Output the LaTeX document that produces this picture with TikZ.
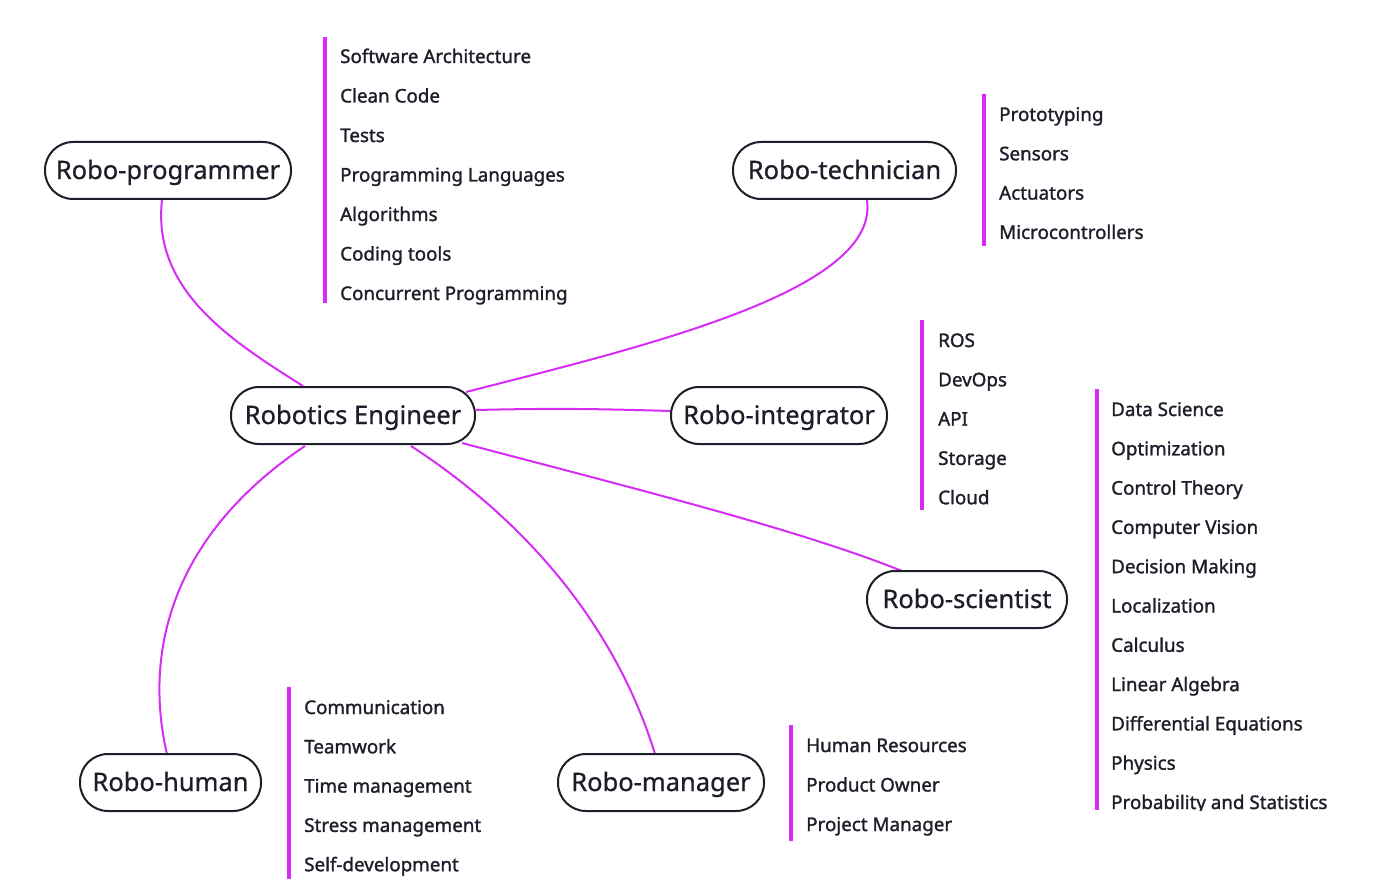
\documentclass[tikz,border=0pt]{standalone}
\usepackage{fontspec}
\setmainfont{Noto Sans}
\definecolor{mag}{HTML}{D62CF5}
\definecolor{ink}{HTML}{1C1F2A}
\tikzset{
  hub/.style={draw=ink, line width=2pt, rounded corners=28pt, fill=white, text=ink,
    minimum height=57pt, inner sep=0pt, text height=17pt, text depth=0pt,
    font=\fontsize{25.5}{28}\selectfont\addfontfeatures{FakeBold=0.8}},
  conn/.style={draw=mag, line width=2pt},
  bar/.style={fill=mag, draw=none},
  item/.style={anchor=base west, inner sep=0pt, text=ink, font=\fontsize{18.8}{20}\selectfont\addfontfeatures{FakeBold=1.4}}
}
\begin{document}
\begin{tikzpicture}[x=1pt,y=-1pt]
\useasboundingbox (0,0) rectangle (1374,885);
% connectors
\coordinate (pA) at (162,200); \coordinate (pB) at (303,386);
\coordinate (tA) at (867,200); \coordinate (tB) at (466,392);
\coordinate (iA) at (476,410); \coordinate (iB) at (671,411);
\coordinate (sA) at (462,443); \coordinate (sB) at (902,571);
\coordinate (hA) at (305,446); \coordinate (hB) at (167,754);
\coordinate (mA) at (411,446); \coordinate (mB) at (655,754);
\draw[conn] (pA) .. controls (152,290) and (230,340) .. (pB);
\draw[conn] (tA) .. controls (880,290) and (650,345) .. (tB);
\draw[conn] (iA) .. controls (560,408) and (600,409) .. (iB);
\draw[conn] (sA) .. controls (640,490) and (800,530) .. (sB);
\draw[conn] (hA) .. controls (165,540) and (145,660) .. (hB);
\draw[conn] (mA) .. controls (540,530) and (620,640) .. (mB);
% hubs
\node[hub, minimum width=246pt] (prog) at (168,170.5) {Robo-programmer};
\node[hub, minimum width=223pt] (tech) at (844.5,170.5) {Robo-technician};
\node[hub, minimum width=244pt] (eng) at (353,415.5) {Robotics Engineer};
\node[hub, minimum width=216pt] (integ) at (779,415.5) {Robo-integrator};
\node[hub, minimum width=200pt] (sci) at (967,599.5) {Robo-scientist};
\node[hub, minimum width=181pt] (human) at (170.5,782.5) {Robo-human};
\node[hub, minimum width=206pt] (mgr) at (661,782.5) {Robo-manager};
% lists
% programmer
\fill[bar] (323,37) rectangle (327,303);
\foreach \t [count=\i from 0] in {Software Architecture,Clean Code,Tests,Programming Languages,Algorithms,Coding tools,Concurrent Programming}
  \node[item] (p\i) at (340,{63+39.5*\i}) {\t};
% technician
\fill[bar] (982,94) rectangle (986,246);
\foreach \t [count=\i from 0] in {Prototyping,Sensors,Actuators,Microcontrollers}
  \node[item] (t\i) at (999,{121+39.3*\i}) {\t};
% integrator
\fill[bar] (920,320) rectangle (924,510);
\foreach \t [count=\i from 0] in {ROS,DevOps,API,Storage,Cloud}
  \node[item] (g\i) at (938,{347+39.3*\i}) {\t};
% scientist
\fill[bar] (1095,389) rectangle (1099,810);
\begin{scope}
\clip (1090,380) rectangle (1374,810);
\foreach \t [count=\i from 0] in {Data Science,Optimization,Control Theory,Computer Vision,Decision Making,Localization,Calculus,Linear Algebra,Differential Equations,Physics,Probability and Statistics}
  \node[item] (s\i) at (1111,{416+39.3*\i}) {\t};
\end{scope}
% human
\fill[bar] (287,687) rectangle (291,879);
\foreach \t [count=\i from 0] in {Communication,Teamwork,Time management,Stress management,Self-development}
  \node[item] (h\i) at (304,{714+39.3*\i}) {\t};
% manager
\fill[bar] (789,725) rectangle (793,841);
\foreach \t [count=\i from 0] in {Human Resources,Product Owner,Project Manager}
  \node[item] (m\i) at (806,{752+39.5*\i}) {\t};
\end{tikzpicture}
\end{document}
